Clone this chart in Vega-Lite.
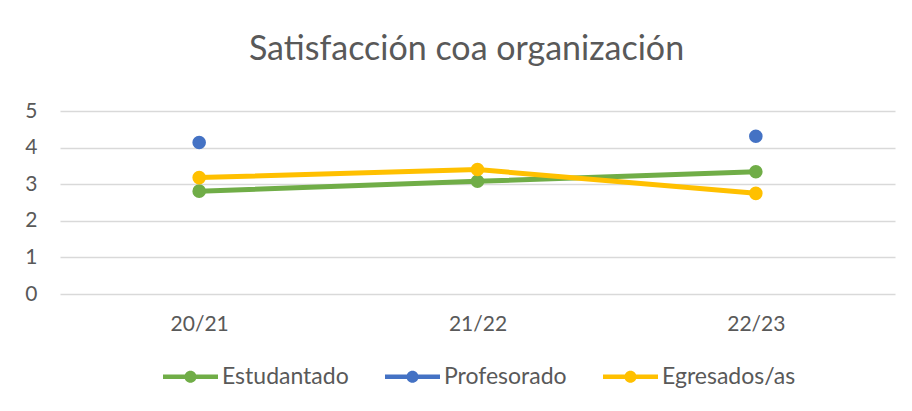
{
  "$schema": "https://vega.github.io/schema/vega-lite/v6.json",
  "autosize": "none",
  "width": 835,
  "height": 183,
  "padding": {"left": 60, "top": 111, "right": 17, "bottom": 117},
  "background": "white",
  "title": {
    "text": "Satisfacción coa organización",
    "font": "Lato",
    "fontSize": 34,
    "fontWeight": "normal",
    "color": "#595959",
    "anchor": "middle",
    "frame": "group",
    "offset": 33,
    "dx": -11
  },
  "config": {
    "view": {"stroke": null},
    "font": "Lato"
  },
  "data": {
    "values": [
      {"curso": "20/21", "serie": "Estudantado", "valor": 2.81},
      {"curso": "21/22", "serie": "Estudantado", "valor": 3.08},
      {"curso": "22/23", "serie": "Estudantado", "valor": 3.34},
      {"curso": "20/21", "serie": "Profesorado", "valor": 4.14},
      {"curso": "21/22", "serie": "Profesorado", "valor": null},
      {"curso": "22/23", "serie": "Profesorado", "valor": 4.31},
      {"curso": "20/21", "serie": "Egresados/as", "valor": 3.18},
      {"curso": "21/22", "serie": "Egresados/as", "valor": 3.4},
      {"curso": "22/23", "serie": "Egresados/as", "valor": 2.75}
    ]
  },
  "encoding": {
    "x": {
      "field": "curso",
      "type": "ordinal",
      "scale": {"type": "point", "padding": 0.5},
      "axis": {
        "title": null,
        "labelAngle": 0,
        "labelFont": "Lato",
        "labelFontSize": 21,
        "labelColor": "#595959",
        "labelPadding": 19,
        "ticks": false,
        "domain": false,
        "grid": false
      }
    },
    "y": {
      "field": "valor",
      "type": "quantitative",
      "scale": {"domain": [0, 5], "nice": false},
      "axis": {
        "title": null,
        "values": [0, 1, 2, 3, 4, 5],
        "labelFont": "Lato",
        "labelFontSize": 21,
        "labelColor": "#595959",
        "labelPadding": 23,
        "ticks": false,
        "domain": false,
        "gridColor": "#D9D9D9",
        "gridWidth": 1.3
      }
    },
    "color": {
      "field": "serie",
      "type": "nominal",
      "scale": {
        "domain": ["Estudantado", "Profesorado", "Egresados/as"],
        "range": ["#70AD47", "#4472C4", "#FFC000"]
      },
      "legend": {
        "title": null,
        "orient": "none",
        "direction": "horizontal",
        "legendX": 103,
        "legendY": 238,
        "symbolType": "M -1 -0.085 L 1 -0.085 L 1 0.085 L -1 0.085 Z M -0.22 0 A 0.22 0.22 0 1 1 0.22 0 A 0.22 0.22 0 1 1 -0.22 0 Z",
        "symbolSize": 3025,
        "symbolStrokeWidth": 0,
        "symbolFillColor": null,
        "labelFont": "Lato",
        "labelFontSize": 23,
        "labelColor": "#595959",
        "labelOffset": 4,
        "columnPadding": 36
      }
    }
  },
  "layer": [
    {
      "mark": {"type": "line", "strokeWidth": 5, "strokeCap": "round"}
    },
    {
      "mark": {"type": "point", "filled": true, "size": 185, "opacity": 1}
    }
  ]
}
